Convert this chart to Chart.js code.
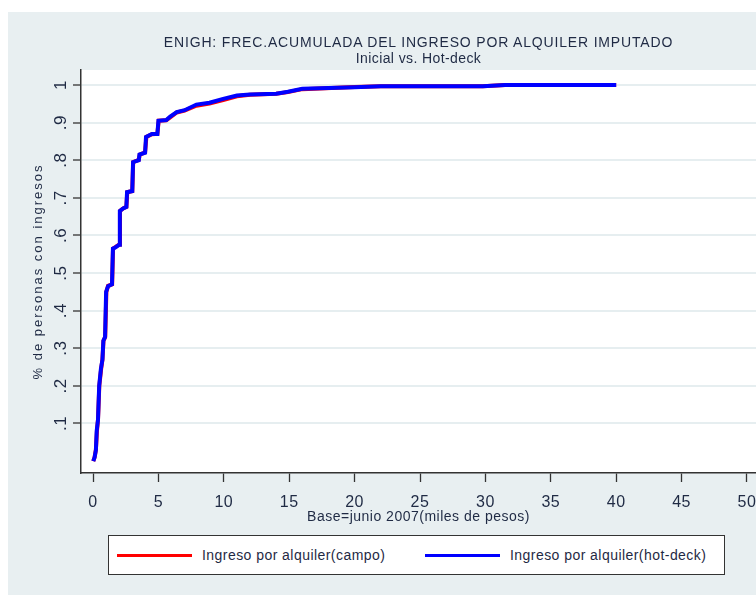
<!DOCTYPE html>
<html>
<head>
<meta charset="utf-8">
<script src="https://cdn.jsdelivr.net/npm/chart.js@4.4.1/dist/chart.umd.min.js"></script>
<style>
  body { margin: 0; background: #fff; }
  #wrap { position: relative; width: 756px; height: 595px; overflow: hidden; }
  #bg { position: absolute; left: 8px; top: 12px; right: 0; bottom: 0; background: #e8eff1; }
  canvas { position: absolute; left: 0; top: 0; }
  .ttl { position: absolute; left: 81px; width: 675px; text-align: center; color: #1f2a44;
         font-family: 'Liberation Sans', Arial, sans-serif; font-size: 14px;
         line-height: 16px; white-space: nowrap; }
  #legend { position: absolute; left: 108px; top: 535px; width: 615px; height: 38px;
            border: 1px solid #333; background: #fff; }
  .item { position: absolute; top: 0; height: 38px; display: flex; align-items: center;
          font-family: 'Liberation Sans', Arial, sans-serif; font-size: 14px;
          letter-spacing: 0.45px; color: #1f2a44; white-space: nowrap; }
  .swatch { width: 75px; height: 3px; margin-right: 10px; }
</style>
</head>
<body>
<div id="wrap">
  <div id="bg"></div>
  <canvas id="chart" width="756" height="595"></canvas>
  <div class="ttl" style="top:34px; letter-spacing:0.83px">ENIGH: FREC.ACUMULADA DEL INGRESO POR ALQUILER IMPUTADO</div>
  <div class="ttl" style="top:50px; letter-spacing:0.4px">Inicial vs. Hot-deck</div>
  <div id="legend"></div>
</div>
<script>
// datos (miles de pesos, proporción acumulada)
const campoX = [0.02, 0.12, 0.22, 0.30, 0.38, 0.48, 0.62, 0.72, 0.80, 0.93, 1.02, 1.15, 1.46, 1.53, 1.70, 2.00, 2.06, 2.30, 2.55, 2.62, 3.00, 3.07, 3.50, 3.57, 3.98, 4.08, 4.50, 4.92, 5.02, 5.60, 5.90, 6.40, 7.00, 7.90, 8.90, 9.95, 11.0, 12.0, 14.0, 14.9, 16.0, 20.0, 22.0, 29.8, 31.5, 40.0];
const campoY = [0.00, 0.01, 0.03, 0.08, 0.11, 0.20, 0.245, 0.27, 0.32, 0.33, 0.45, 0.466, 0.47, 0.565, 0.569, 0.576, 0.665, 0.672, 0.676, 0.715, 0.718, 0.795, 0.801, 0.815, 0.821, 0.862, 0.869, 0.870, 0.905, 0.906, 0.914, 0.927, 0.932, 0.945, 0.951, 0.960, 0.970, 0.974, 0.977, 0.981, 0.989, 0.995, 0.997, 0.997, 1.0, 1.0];

const hotdeckX = [0.02, 0.12, 0.22, 0.28, 0.38, 0.47, 0.60, 0.72, 0.79, 0.92, 1.00, 1.15, 1.45, 1.52, 1.70, 2.00, 2.05, 2.30, 2.55, 2.60, 3.00, 3.06, 3.50, 3.55, 3.98, 4.05, 4.50, 4.92, 5.00, 5.60, 5.90, 6.40, 7.00, 7.90, 8.90, 9.95, 11.0, 12.0, 14.0, 14.9, 16.0, 20.0, 22.0, 29.8, 31.5, 40.0];
const hotdeckY = [0.00, 0.01, 0.03, 0.08, 0.11, 0.20, 0.245, 0.27, 0.32, 0.33, 0.45, 0.465, 0.47, 0.565, 0.568, 0.575, 0.665, 0.672, 0.676, 0.715, 0.718, 0.795, 0.80, 0.815, 0.82, 0.862, 0.870, 0.870, 0.905, 0.907, 0.916, 0.928, 0.933, 0.948, 0.953, 0.963, 0.972, 0.975, 0.977, 0.982, 0.990, 0.994, 0.997, 0.997, 1.0, 1.0];

const xTicks = [0, 5, 10, 15, 20, 25, 30, 35, 40, 45, 50];
const yTicks = [0.1, 0.2, 0.3, 0.4, 0.5, 0.6, 0.7, 0.8, 0.9, 1];
const yTickLabels = ['.1', '.2', '.3', '.4', '.5', '.6', '.7', '.8', '.9', '1'];

const textColor = '#1f2a44';
const axisColor = '#333333';

const zip = (xs, ys) => xs.map((x, i) => ({ x: x, y: ys[i] }));

// título del eje con otro espaciado de letras
const spacedTitle = spacing => s => {
  s.drawTitle = function () {
    this.ctx.letterSpacing = spacing;
    Chart.Scale.prototype.drawTitle.call(this);
    this.ctx.letterSpacing = '0.5px';
  };
};

// fondo blanco del área de trazado + espaciado de letras
const plotBg = {
  id: 'plotBg',
  beforeUpdate(chart) { chart.ctx.letterSpacing = '0.5px'; },
  beforeDraw(chart) {
    const { ctx, chartArea: a } = chart;
    ctx.letterSpacing = '0.5px';
    ctx.save();
    ctx.fillStyle = '#ffffff';
    ctx.fillRect(a.left, a.top, a.right - a.left, a.bottom - a.top);
    ctx.restore();
  }
};

const chart = new Chart(document.getElementById('chart'), {
  type: 'line',
  data: {
    datasets: [
      {
        label: 'Ingreso por alquiler(campo)',
        data: zip(campoX, campoY),
        borderColor: '#ff0000',
        backgroundColor: '#ff0000',
        borderWidth: 4,
        pointRadius: 0,
        tension: 0,
        order: 2
      },
      {
        label: 'Ingreso por alquiler(hot-deck)',
        data: zip(hotdeckX, hotdeckY),
        borderColor: '#0000ff',
        backgroundColor: '#0000ff',
        borderWidth: 4,
        pointRadius: 0,
        tension: 0,
        order: 1
      }
    ]
  },
  options: {
    responsive: false,
    animation: false,
    layout: { padding: { left: 0, top: 70, right: 0, bottom: 69 } },
    plugins: {
      legend: { display: false },
      title: { display: false },
      tooltip: { enabled: false }
    },
    scales: {
      x: {
        type: 'linear',
        min: -0.92,
        max: 50.69,
        afterBuildTicks: s => { s.ticks = xTicks.map(v => ({ value: v })); },
        afterFit: s => { s.height = 53; s.paddingLeft = 0; s.paddingRight = 0; },
        afterUpdate: spacedTitle('0.5px'),
        ticks: {
          autoSkip: false,
          maxRotation: 0,
          padding: 11,
          color: textColor,
          font: { family: "'Liberation Sans', Arial, sans-serif", size: 16 }
        },
        grid: { drawOnChartArea: false, tickLength: 9, tickColor: axisColor, tickWidth: 1.3 },
        border: { color: axisColor, width: 1.5 },
        title: {
          display: true,
          text: 'Base=junio 2007(miles de pesos)',
          color: textColor,
          padding: { top: 0, bottom: 0 },
          font: { family: "'Liberation Sans', Arial, sans-serif", size: 14 }
        }
      },
      y: {
        min: -0.0317,
        max: 1.0399,
        afterBuildTicks: s => { s.ticks = yTicks.map(v => ({ value: v })); },
        afterFit: s => { s.width = 81; s.paddingTop = 0; s.paddingBottom = 0; },
        afterUpdate: spacedTitle('2px'),
        ticks: {
          minRotation: 90,
          maxRotation: 90,
          crossAlign: 'center',
          padding: 4,
          color: textColor,
          callback: (v, i) => yTickLabels[i],
          font: { family: "'Liberation Sans', Arial, sans-serif", size: 17 }
        },
        grid: { color: '#e6eef0', lineWidth: 2, tickColor: axisColor, tickLength: 8, tickWidth: 1.3 },
        border: { color: axisColor, width: 1.5 },
        title: {
          display: true,
          text: '% de personas con ingresos',
          color: textColor,
          padding: { top: 31, bottom: 0 },
          font: { family: "'Liberation Sans', Arial, sans-serif", size: 13 }
        }
      }
    }
  },
  plugins: [plotBg]
});

// leyenda en recuadro, como en el original
const legendEl = document.getElementById('legend');
const itemLeft = [8, 316];
chart.data.datasets.forEach((ds, i) => {
  const it = document.createElement('div');
  it.className = 'item';
  it.style.left = itemLeft[i] + 'px';
  const sw = document.createElement('span');
  sw.className = 'swatch';
  sw.style.background = ds.borderColor;
  it.appendChild(sw);
  it.appendChild(document.createTextNode(ds.label));
  legendEl.appendChild(it);
});
</script>
</body>
</html>
